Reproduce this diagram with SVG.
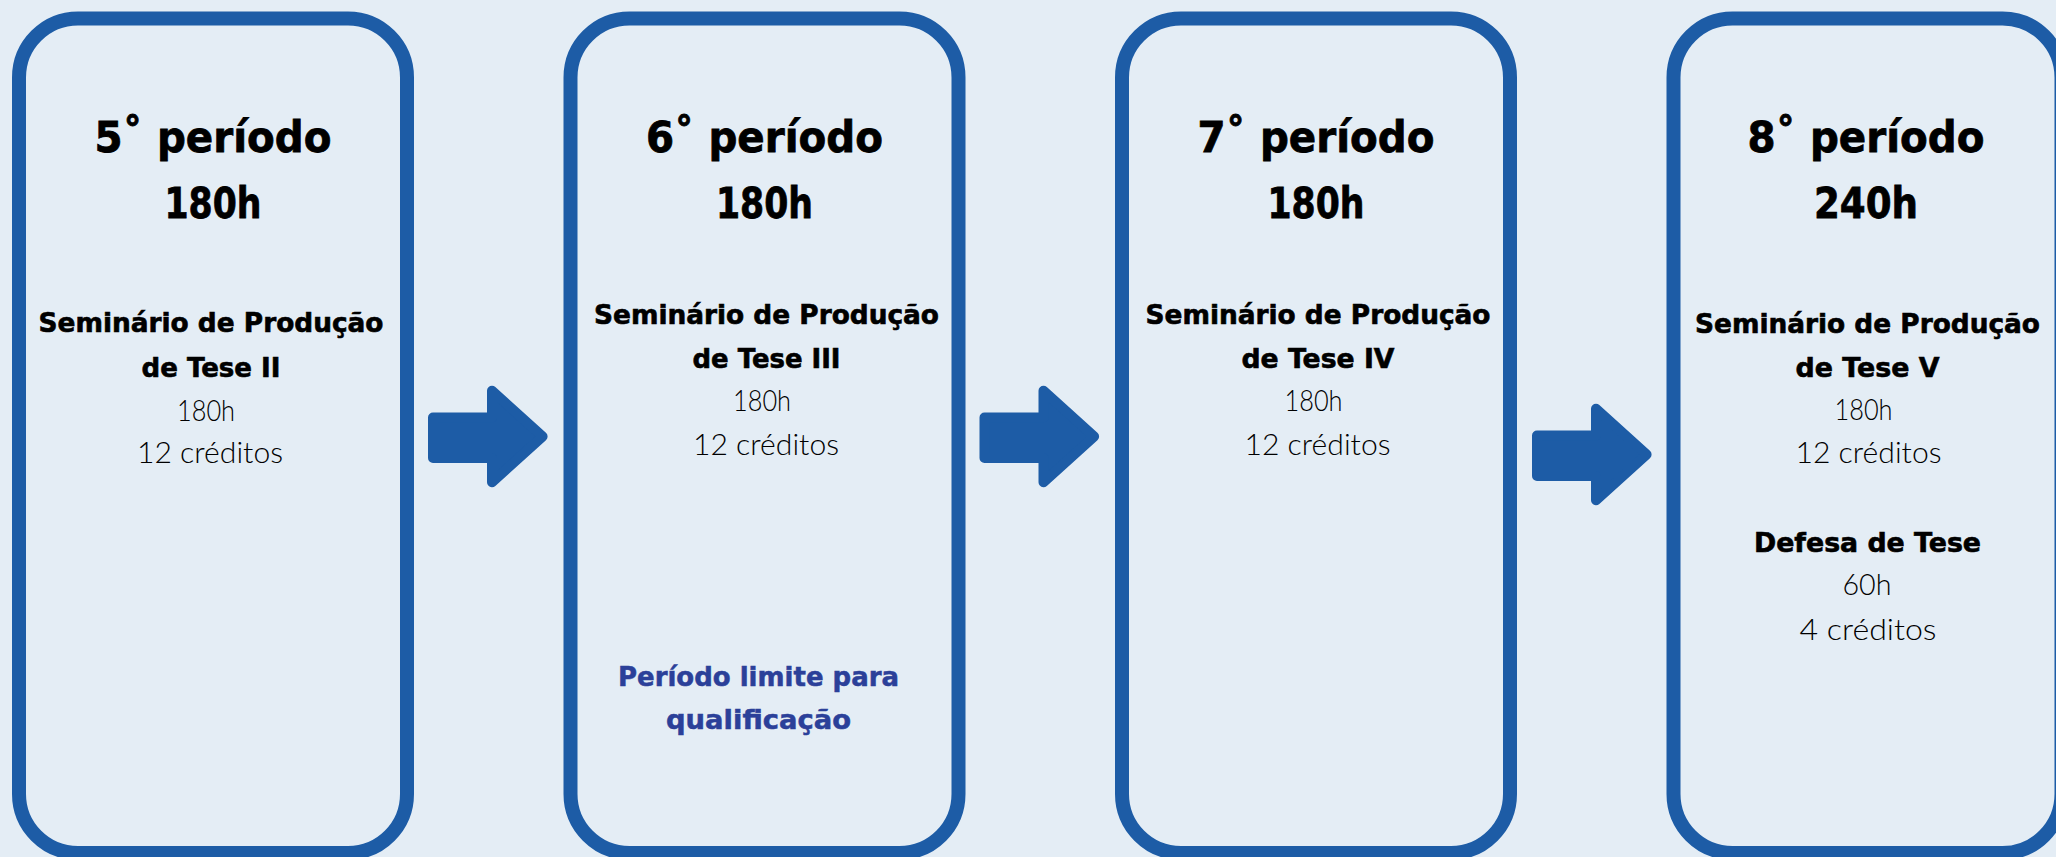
<svg xmlns="http://www.w3.org/2000/svg" xmlns:xlink="http://www.w3.org/1999/xlink" width="2056" height="857" viewBox="0 0 2056 857">
<style>
.box{fill:#E4EDF5;stroke:#1D5CA6;stroke-width:14}
.arrow{fill:#1D5CA6;stroke:#1D5CA6;stroke-width:10;stroke-linejoin:round}
.h{font-family:"DejaVu Sans",sans-serif;font-weight:700;font-size:43px;fill:#000;stroke:#000;stroke-width:0.8;text-anchor:middle}
.s{font-family:"DejaVu Sans",sans-serif;font-weight:700;font-size:26px;fill:#000;stroke:#000;stroke-width:0.6;text-anchor:middle}
.b{font-family:Lato,"Open Sans",sans-serif;font-weight:300;font-size:30px;fill:#000;text-anchor:middle}
.q{font-family:"DejaVu Sans",sans-serif;font-weight:700;font-size:26px;fill:#2B4099;stroke:#2B4099;stroke-width:0.5;text-anchor:middle}
</style>
<defs>
<path id="arr" class="arrow" d="M5,-19 L64,-19 L64,-45.7 L114.6,0 L64,45.7 L64,21.5 L5,21.5 Z"/>
</defs>
<rect width="2056" height="857" fill="#E4EDF5"/>
<g id="connectors">
<use xlink:href="#arr" href="#arr" transform="translate(428,436.5)"/>
<use xlink:href="#arr" href="#arr" transform="translate(979.5,436.5)"/>
<use xlink:href="#arr" href="#arr" transform="translate(1532,454.5)"/>
</g>
<g id="node-5">
<rect class="box" x="19" y="18.5" width="388" height="834.5" rx="59"/>
<text class="h" x="213" y="152" textLength="237" lengthAdjust="spacingAndGlyphs">5˚ período</text>
<text class="h" x="213" y="218" textLength="97" lengthAdjust="spacingAndGlyphs">180h</text>
<text class="s" x="211" y="332" textLength="345" lengthAdjust="spacingAndGlyphs">Seminário de Produção</text>
<text class="s" x="211" y="377" textLength="139" lengthAdjust="spacingAndGlyphs">de Tese II</text>
<text class="b" x="206" y="421" textLength="58" lengthAdjust="spacingAndGlyphs">180h</text>
<text class="b" x="210" y="463" textLength="146" lengthAdjust="spacingAndGlyphs">12 créditos</text>
</g>
<g id="node-6">
<rect class="box" x="570.5" y="18.5" width="388" height="834.5" rx="59"/>
<text class="h" x="764.5" y="152" textLength="237" lengthAdjust="spacingAndGlyphs">6˚ período</text>
<text class="h" x="764.5" y="218" textLength="97" lengthAdjust="spacingAndGlyphs">180h</text>
<text class="s" x="766.5" y="324" textLength="345" lengthAdjust="spacingAndGlyphs">Seminário de Produção</text>
<text class="s" x="766.5" y="367.5" textLength="148" lengthAdjust="spacingAndGlyphs">de Tese III</text>
<text class="b" x="762" y="411" textLength="58" lengthAdjust="spacingAndGlyphs">180h</text>
<text class="b" x="766" y="455" textLength="146" lengthAdjust="spacingAndGlyphs">12 créditos</text>
<text class="q" x="758.5" y="686" textLength="281" lengthAdjust="spacingAndGlyphs">Período limite para</text>
<text class="q" x="758.5" y="729" textLength="185" lengthAdjust="spacingAndGlyphs">qualificação</text>
</g>
<g id="node-7">
<rect class="box" x="1122" y="18.5" width="388" height="834.5" rx="59"/>
<text class="h" x="1316" y="152" textLength="237" lengthAdjust="spacingAndGlyphs">7˚ período</text>
<text class="h" x="1316" y="218" textLength="97" lengthAdjust="spacingAndGlyphs">180h</text>
<text class="s" x="1318" y="324" textLength="345" lengthAdjust="spacingAndGlyphs">Seminário de Produção</text>
<text class="s" x="1318" y="367.5" textLength="153" lengthAdjust="spacingAndGlyphs">de Tese IV</text>
<text class="b" x="1313.5" y="411" textLength="58" lengthAdjust="spacingAndGlyphs">180h</text>
<text class="b" x="1317.5" y="455" textLength="146" lengthAdjust="spacingAndGlyphs">12 créditos</text>
</g>
<g id="node-8">
<rect class="box" x="1673.5" y="18.5" width="388" height="834.5" rx="59"/>
<text class="h" x="1866" y="152" textLength="237" lengthAdjust="spacingAndGlyphs">8˚ período</text>
<text class="h" x="1866" y="218" textLength="104" lengthAdjust="spacingAndGlyphs">240h</text>
<text class="s" x="1867.5" y="333" textLength="345" lengthAdjust="spacingAndGlyphs">Seminário de Produção</text>
<text class="s" x="1867.5" y="377" textLength="144" lengthAdjust="spacingAndGlyphs">de Tese V</text>
<text class="b" x="1863.5" y="419.5" textLength="58" lengthAdjust="spacingAndGlyphs">180h</text>
<text class="b" x="1868.5" y="463" textLength="146" lengthAdjust="spacingAndGlyphs">12 créditos</text>
<text class="s" x="1867.5" y="552" textLength="227" lengthAdjust="spacingAndGlyphs">Defesa de Tese</text>
<text class="b" x="1867" y="595" textLength="49" lengthAdjust="spacingAndGlyphs">60h</text>
<text class="b" x="1868" y="640" textLength="137" lengthAdjust="spacingAndGlyphs">4 créditos</text>
</g>
</svg>
